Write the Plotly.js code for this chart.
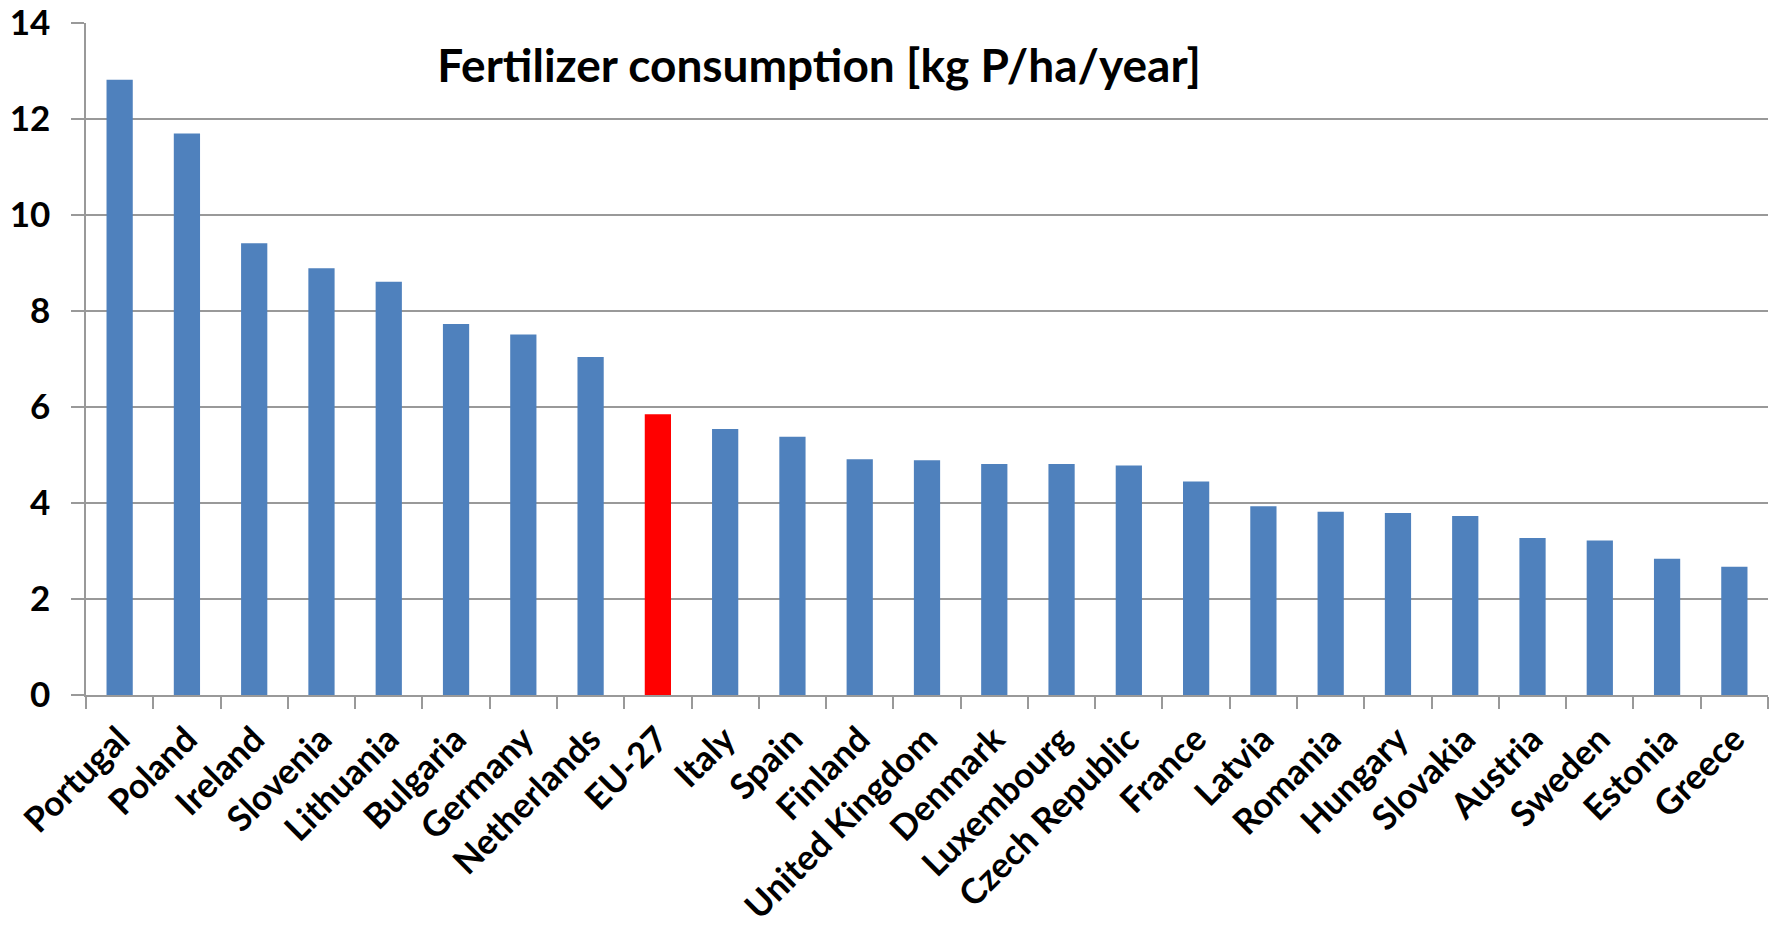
<!DOCTYPE html>
<html>
<head>
<meta charset="utf-8">
<script src="https://cdn.plot.ly/plotly-3.0.1.min.js"></script>
<style>
  html, body { margin: 0; padding: 0; background: #ffffff; }
  #chart { width: 1773px; height: 926px; }
</style>
</head>
<body>
<div id="chart"></div>
<script>
const countries = ["Portugal", "Poland", "Ireland", "Slovenia", "Lithuania", "Bulgaria", "Germany", "Netherlands", "EU-27", "Italy", "Spain", "Finland", "United Kingdom", "Denmark", "Luxembourg", "Czech Republic", "France", "Latvia", "Romania", "Hungary", "Slovakia", "Austria", "Sweden", "Estonia", "Greece"];
const consumption = [12.82, 11.70, 9.41, 8.89, 8.61, 7.73, 7.51, 7.04, 5.85, 5.54, 5.38, 4.91, 4.89, 4.81, 4.81, 4.78, 4.45, 3.93, 3.82, 3.79, 3.73, 3.27, 3.22, 2.84, 2.67];
const highlighted = "EU-27";
const yTicks = [0, 2, 4, 6, 8, 10, 12, 14];
const chartTitle = "Fertilizer consumption [kg P/ha/year]";

const barColors = countries.map(c => c === highlighted ? "#FF0000" : "#4F81BD");

const fontFamily = "Lato, 'Open Sans', 'DejaVu Sans', sans-serif";

const trace = {
  type: "bar",
  x: countries,
  y: consumption,
  marker: { color: barColors, line: { width: 0 } },
  hoverinfo: "x+y"
};

const layout = {
  width: 1773,
  height: 926,
  margin: { l: 86, r: 5, t: 23, b: 231, pad: 0 },
  paper_bgcolor: "#ffffff",
  plot_bgcolor: "#ffffff",
  bargap: 0.61,
  showlegend: false,
  font: { family: fontFamily, color: "#000000", weight: 700 },
  title: {
    text: chartTitle,
    font: { family: fontFamily, size: 46, color: "#000000", weight: 700 },
    xref: "paper", yref: "paper",
    x: 0.4358, y: 0.936,
    xanchor: "center", yanchor: "middle"
  },
  xaxis: {
    type: "category",
    tickangle: -45,
    tickson: "boundaries",
    ticks: "outside",
    ticklen: 12,
    tickwidth: 1.5,
    tickcolor: "#999999",
    showline: true,
    linecolor: "#999999",
    linewidth: 1.5,
    showgrid: false,
    ticklabelstandoff: 8,
    tickfont: { family: fontFamily, size: 35, color: "#000000", weight: 700 },
    fixedrange: true
  },
  yaxis: {
    range: [0, 14],
    tickvals: yTicks,
    ticktext: yTicks.map(String),
    ticks: "outside",
    ticklen: 13,
    tickwidth: 1.5,
    tickcolor: "#999999",
    showline: true,
    linecolor: "#999999",
    linewidth: 1.5,
    showgrid: true,
    gridcolor: "#999999",
    gridwidth: 1.5,
    zeroline: false,
    ticklabelstandoff: 14,
    tickfont: { family: fontFamily, size: 35, color: "#000000", weight: 700 },
    fixedrange: true
  }
};

Plotly.newPlot("chart", [trace], layout, { displayModeBar: false, responsive: false });
</script>
</body>
</html>
